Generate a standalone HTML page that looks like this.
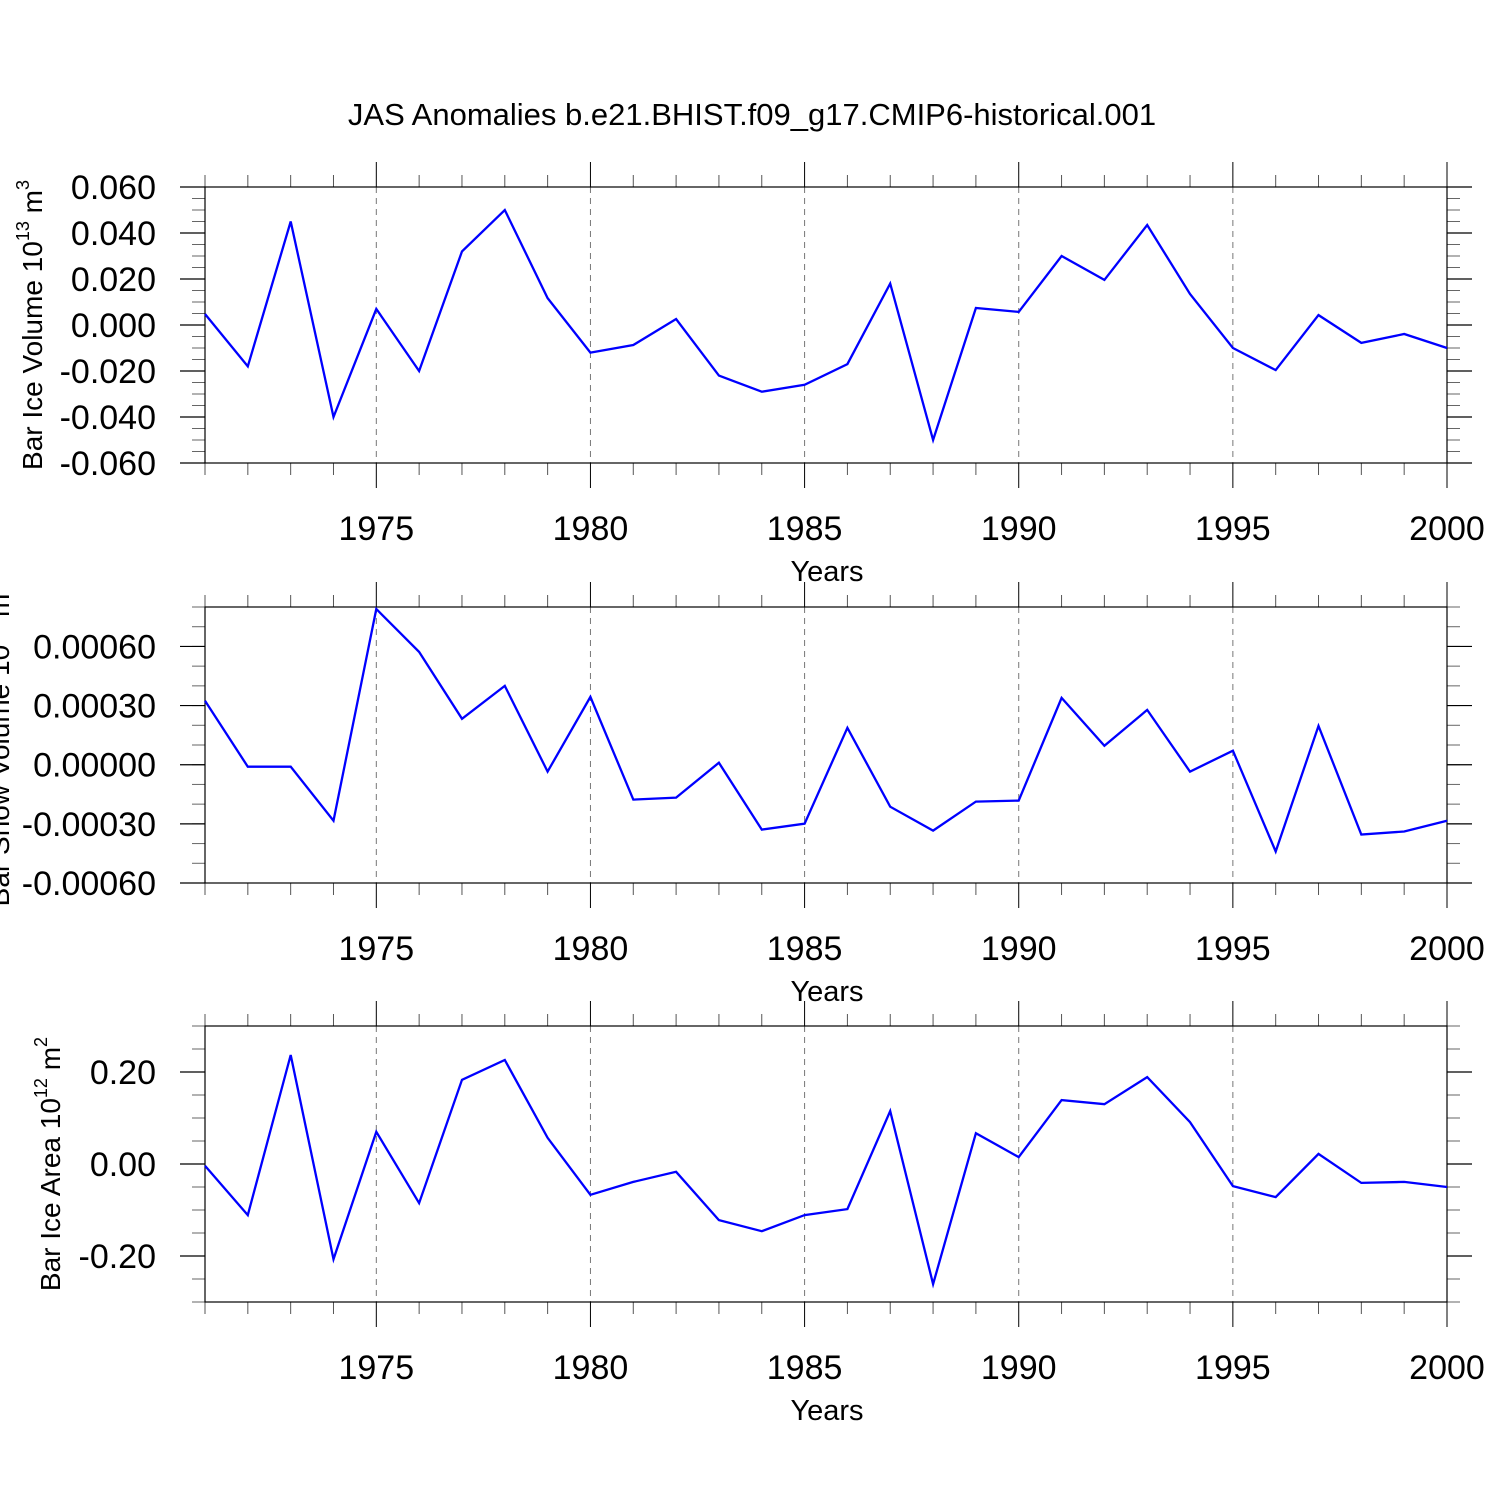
<!DOCTYPE html>
<html><head><meta charset="utf-8"><style>
html,body{margin:0;padding:0;background:#fff}
svg{display:block;font-family:"Liberation Sans",sans-serif}
</style></head><body>
<svg id="chart" width="1500" height="1500" viewBox="0 0 1500 1500" xmlns="http://www.w3.org/2000/svg">
<text x="752" y="125" font-size="31" text-anchor="middle">JAS Anomalies b.e21.BHIST.f09_g17.CMIP6-historical.001</text>
</svg>
<script>
const years = [1971,1972,1973,1974,1975,1976,1977,1978,1979,1980,1981,1982,1983,1984,1985,1986,1987,1988,1989,1990,1991,1992,1993,1994,1995,1996,1997,1998,1999,2000];
const xTickLabels = [1975,1980,1985,1990,1995,2000];
const iceVolume = [0.0048,-0.018,0.045,-0.040,0.007,-0.020,0.032,0.050,0.0117,-0.012,-0.0087,0.0026,-0.022,-0.029,-0.026,-0.017,0.018,-0.050,0.0074,0.0057,0.030,0.0196,0.0435,0.0135,-0.010,-0.0196,0.0043,-0.0078,-0.0039,-0.010];
const snowVolume = [0.000324,-0.00001,-0.00001,-0.000284,0.00079,0.000572,0.000233,0.0004,-0.000035,0.000344,-0.000177,-0.000167,0.00001,-0.000329,-0.000299,0.000187,-0.000213,-0.000334,-0.000187,-0.000182,0.000339,0.000096,0.000278,-0.000035,0.000071,-0.00044,0.000197,-0.000354,-0.000339,-0.000284];
const iceArea = [-0.004,-0.111,0.237,-0.207,0.070,-0.085,0.183,0.226,0.057,-0.067,-0.039,-0.017,-0.122,-0.146,-0.111,-0.098,0.115,-0.261,0.067,0.015,0.139,0.130,0.189,0.091,-0.048,-0.072,0.022,-0.041,-0.039,-0.050];
const volTicks = [-0.06,-0.04,-0.02,0,0.02,0.04,0.06];
const snowTicks = [-0.0006,-0.0003,0,0.0003,0.0006];
const areaTicks = [-0.2,0,0.2];

const svg = document.getElementById('chart');
const NS = 'http://www.w3.org/2000/svg';
function mk(tag, attrs){const e=document.createElementNS(NS,tag);for(const k in attrs)e.setAttribute(k,attrs[k]);svg.appendChild(e);return e;}
const X0=205, X1=1447;
function xs(y){return X0+(y-1971)/(2000-1971)*(X1-X0);}

function panel(cfg){
  const T=cfg.top, B=cfg.top+276;
  const ys=v=>B-(v-cfg.min)/(cfg.max-cfg.min)*(B-T);
  for(const yr of [1975,1980,1985,1990,1995]){
    const g=mk('line',{x1:xs(yr),x2:xs(yr),y1:T,y2:B,stroke:'#777','stroke-width':1,'stroke-dasharray':'6,5'});
    
    
  }
  for(let yr=1971; yr<=2000; yr++){
    const maj=yr%5===0, L=maj?25:12, x=xs(yr);
    const t1=mk('line',{x1:x,x2:x,y1:T-L,y2:T,stroke:maj?'#000':'#555','stroke-width':1});
    
    
    const t2=mk('line',{x1:x,x2:x,y1:B,y2:B+L,stroke:maj?'#000':'#555','stroke-width':1});
    
    
  }
  for(const yr of xTickLabels){
    const t=mk('text',{x:xs(yr),y:B+77,'font-size':34,'text-anchor':'middle'});
    t.textContent=yr;
    
    
  }
  const n=Math.round((cfg.max-cfg.min)/cfg.minor);
  for(let i=0;i<=n;i++){
    const y=ys(cfg.min+i*cfg.minor);
    for(const [a,b] of [[X0-13,X0],[X1,X1+13]]){
      const m=mk('line',{x1:a,x2:b,y1:y,y2:y,stroke:'#666','stroke-width':1});
      
      
    }
  }
  for(const v of cfg.ticks){
    const y=ys(v);
    for(const [a,b] of [[X0-25,X0],[X1,X1+25]]){
      const m=mk('line',{x1:a,x2:b,y1:y,y2:y,stroke:'#000','stroke-width':1.2});
      
      
    }
    const t=mk('text',{x:156,y:y+12,'font-size':34,'text-anchor':'end'});
    t.textContent=v.toFixed(cfg.dec);
    
    
  }
  const f=mk('rect',{x:X0,y:T,width:X1-X0,height:B-T,fill:'none',stroke:'#000','stroke-width':1.2});
  
  
  const pts=years.map((yr,i)=>xs(yr).toFixed(1)+','+ys(cfg.data[i]).toFixed(1)).join(' ');
  const p=mk('polyline',{points:pts,fill:'none',stroke:'#0000ff','stroke-width':2.3,'stroke-linejoin':'miter'});
  
  
  const xt=mk('text',{x:827,y:B+118,'font-size':29,'text-anchor':'middle'});
  xt.textContent='Years';
  
  
  const cy=(T+B)/2;
  const yt=mk('text',{x:cfg.labelX,y:cy,'font-size':28,'text-anchor':'middle',transform:`rotate(-90 ${cfg.labelX} ${cy})`});
  yt.innerHTML=cfg.label+' 10<tspan dy="-13" font-size="18">'+cfg.exp+'</tspan><tspan dy="13"> m</tspan><tspan dy="-13" font-size="18">'+cfg.unit+'</tspan>';
  
  
}
panel({id:'ice-volume',top:187,min:-0.06,max:0.06,minor:0.005,ticks:volTicks,dec:3,data:iceVolume,label:'Bar Ice Volume',exp:'13',unit:'3',labelX:42});
panel({id:'snow-volume',top:607,min:-0.0006,max:0.0008,minor:0.0001,ticks:snowTicks,dec:5,data:snowVolume,label:'Bar Snow Volume',exp:'13',unit:'3',labelX:9});
panel({id:'ice-area',top:1026,min:-0.3,max:0.3,minor:0.05,ticks:areaTicks,dec:2,data:iceArea,label:'Bar Ice Area',exp:'12',unit:'2',labelX:60});
</script>
</body></html>
